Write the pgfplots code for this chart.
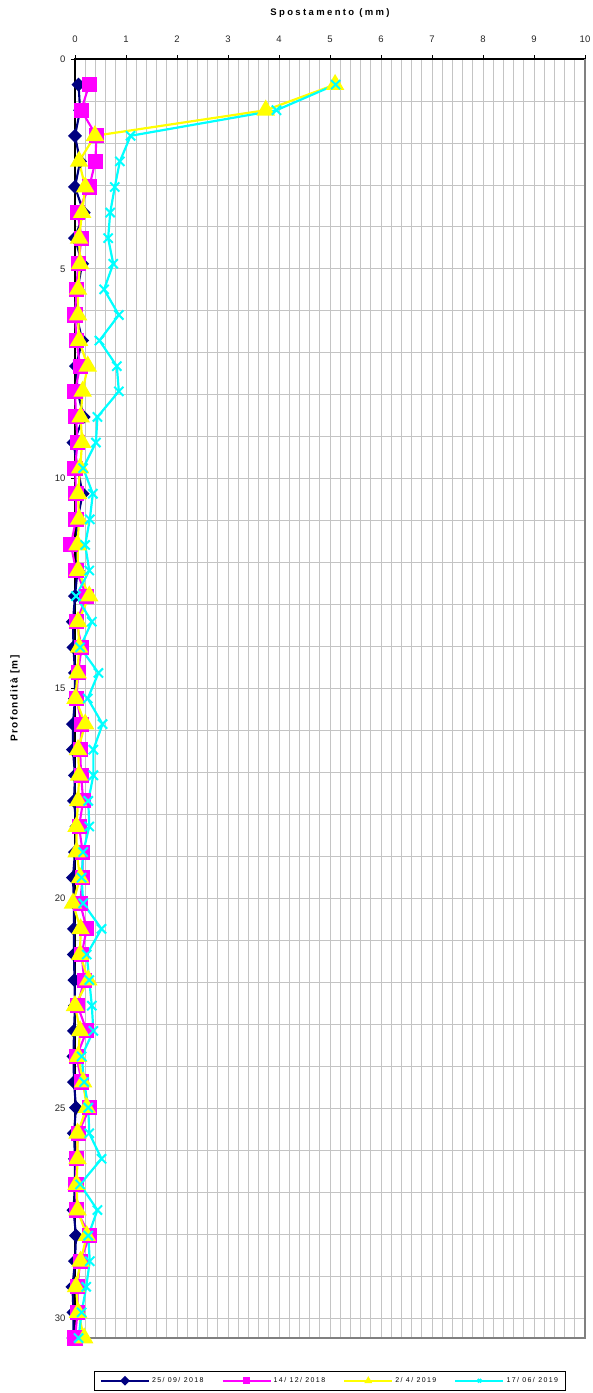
\documentclass[border=0pt]{standalone}
\usepackage{fontspec}
\setmainfont{Liberation Sans}
\usepackage{pgfplots}
\usepackage{pgfplotstable}
\pgfplotsset{compat=1.18}
\definecolor{navyc}{RGB}{0,0,128}
\definecolor{magc}{RGB}{255,0,255}
\definecolor{yelc}{RGB}{255,255,0}
\definecolor{cyac}{RGB}{0,255,255}
\definecolor{gridc}{RGB}{196,196,196}
\definecolor{borderc}{RGB}{128,128,128}

\pgfplotstableread{
d n m y c
0.61 0.07 0.28 5.10 5.11
1.22 0.10 0.12 3.74 3.95
1.83 0.00 0.42 0.39 1.09
2.44 0.10 0.40 0.08 0.88
3.05 0.00 0.28 0.20 0.78
3.66 0.17 0.05 0.14 0.69
4.27 0.00 0.13 0.08 0.65
4.88 0.14 0.06 0.10 0.75
5.49 0.05 0.03 0.06 0.57
6.10 0.03 0.00 0.06 0.86
6.71 0.14 0.03 0.08 0.48
7.32 0.02 0.10 0.25 0.82
7.92 0.05 0.00 0.15 0.86
8.53 0.17 0.02 0.11 0.44
9.14 -0.03 0.05 0.14 0.41
9.75 0.05 0.00 0.10 0.16
10.36 0.15 0.02 0.06 0.35
10.97 0.05 0.02 0.08 0.29
11.58 0.03 -0.08 0.05 0.20
12.19 0.05 0.02 0.06 0.28
12.80 0.00 0.23 0.28 0.02
13.41 -0.04 0.03 0.06 0.33
14.02 -0.03 0.13 0.08 0.10
14.63 0.00 0.06 0.05 0.46
15.24 0.00 0.03 0.01 0.25
15.85 -0.04 0.13 0.20 0.54
16.46 -0.04 0.10 0.06 0.36
17.07 0.00 0.12 0.08 0.36
17.68 -0.02 0.16 0.06 0.26
18.29 0.03 0.08 0.03 0.28
18.90 0.00 0.15 0.03 0.16
19.51 -0.04 0.15 0.10 0.13
20.12 -0.02 0.10 -0.04 0.16
20.73 -0.02 0.23 0.11 0.52
21.34 -0.02 0.13 0.10 0.23
21.95 -0.01 0.18 0.26 0.28
22.56 0.00 0.05 0.00 0.33
23.16 -0.02 0.23 0.10 0.36
23.77 -0.03 0.03 0.06 0.13
24.38 -0.02 0.13 0.16 0.18
24.99 0.02 0.29 0.23 0.26
25.60 -0.02 0.06 0.05 0.28
26.21 0.00 0.03 0.05 0.52
26.82 0.00 0.02 0.03 0.10
27.43 -0.03 0.03 0.05 0.44
28.04 0.02 0.29 0.23 0.26
28.65 0.00 0.10 0.11 0.29
29.26 -0.05 0.05 0.02 0.22
29.87 -0.03 0.05 0.06 0.13
30.48 -0.03 0.00 0.18 0.07
}\data

\begin{document}
\begin{tikzpicture}
\begin{axis}[
  width=510pt, height=1279pt, scale only axis,
  xmin=0, xmax=10, ymin=0, ymax=30.48, y dir=reverse,
  xtick={0,1,...,10}, ytick={0,5,...,30},
  minor x tick num=4, minor y tick num=4,
  grid=both,
  major grid style={draw=gridc, line width=0.75pt},
  minor grid style={draw=gridc, line width=0.75pt},
  minor tick length=0pt, major tick length=4pt, tick align=outside,
  xtick pos=right, xticklabel pos=right, ytick pos=left,
  tick style={black, line width=0.9pt},
  axis line style={black, line width=1.8pt},
  ticklabel style={font=\fontsize{9.5}{11}\selectfont, text=black!85},
  xticklabel style={yshift=9pt},
  yticklabel style={xshift=-2pt},
  /pgf/number format/assume math mode=true,
  xlabel={Spostamento (mm)},
  every axis x label/.style={at={(axis description cs:0.5,1)}, yshift=46pt, anchor=center,
    font=\bfseries\fontsize{9.5}{11}\selectfont\addfontfeature{LetterSpace=25}},
  ylabel={Profondità [m]},
  every axis y label/.style={at={(axis description cs:-0.1176,0.5)}, rotate=90, anchor=center,
    font=\bfseries\fontsize{10}{11}\selectfont\addfontfeature{LetterSpace=15}},
  clip=false,
  legend columns=4,
  legend cell align=left,
  legend style={at={(0.5,0)}, anchor=north, yshift=-33pt, draw=black, line width=0.9pt,
    font=\fontsize{7}{8}\selectfont\addfontfeature{LetterSpace=20},
    inner xsep=5pt, inner ysep=4pt,
    /tikz/every even column/.append style={column sep=16pt}},
  legend image code/.code={
    \draw[#1, mark=none] (0pt,0pt) -- (48pt,0pt);
    \draw[#1, only marks, mark size=2.4pt] plot coordinates {(24pt,0pt)};
  },
]
\addplot[navyc, line width=2.1pt, mark=square*, mark size=3.9pt, mark options={rotate=45, solid, fill=navyc}] table[x=n, y=d] {\data};
\addlegendentry{25/ 09/ 2018}
\addplot[magc, line width=2.1pt, mark=square*, mark size=6.5pt, mark options={solid, fill=magc}] table[x=m, y=d] {\data};
\addlegendentry{14/ 12/ 2018}
\addplot[yelc, line width=2.2pt, mark=triangle*, mark size=8.5pt, mark options={solid, fill=yelc}] table[x=y, y=d] {\data};
\addlegendentry{2/ 4/ 2019}
\addplot[cyac, line width=2.2pt, mark=x, mark size=6.5pt, mark options={solid, line width=2pt}] table[x=c, y=d] {\data};
\addlegendentry{17/ 06/ 2019}
\draw[borderc, line width=2pt] (axis cs:10,0) -- (axis cs:10,30.48) -- (axis cs:0,30.48);
\coordinate (tl) at (axis cs:0,0);
\coordinate (br) at (axis cs:10,30.48);
\end{axis}
\pgfresetboundingbox
\path ([shift={(-75pt,59pt)}]tl) rectangle ([shift={(7pt,-55pt)}]br);
\end{tikzpicture}
\end{document}
